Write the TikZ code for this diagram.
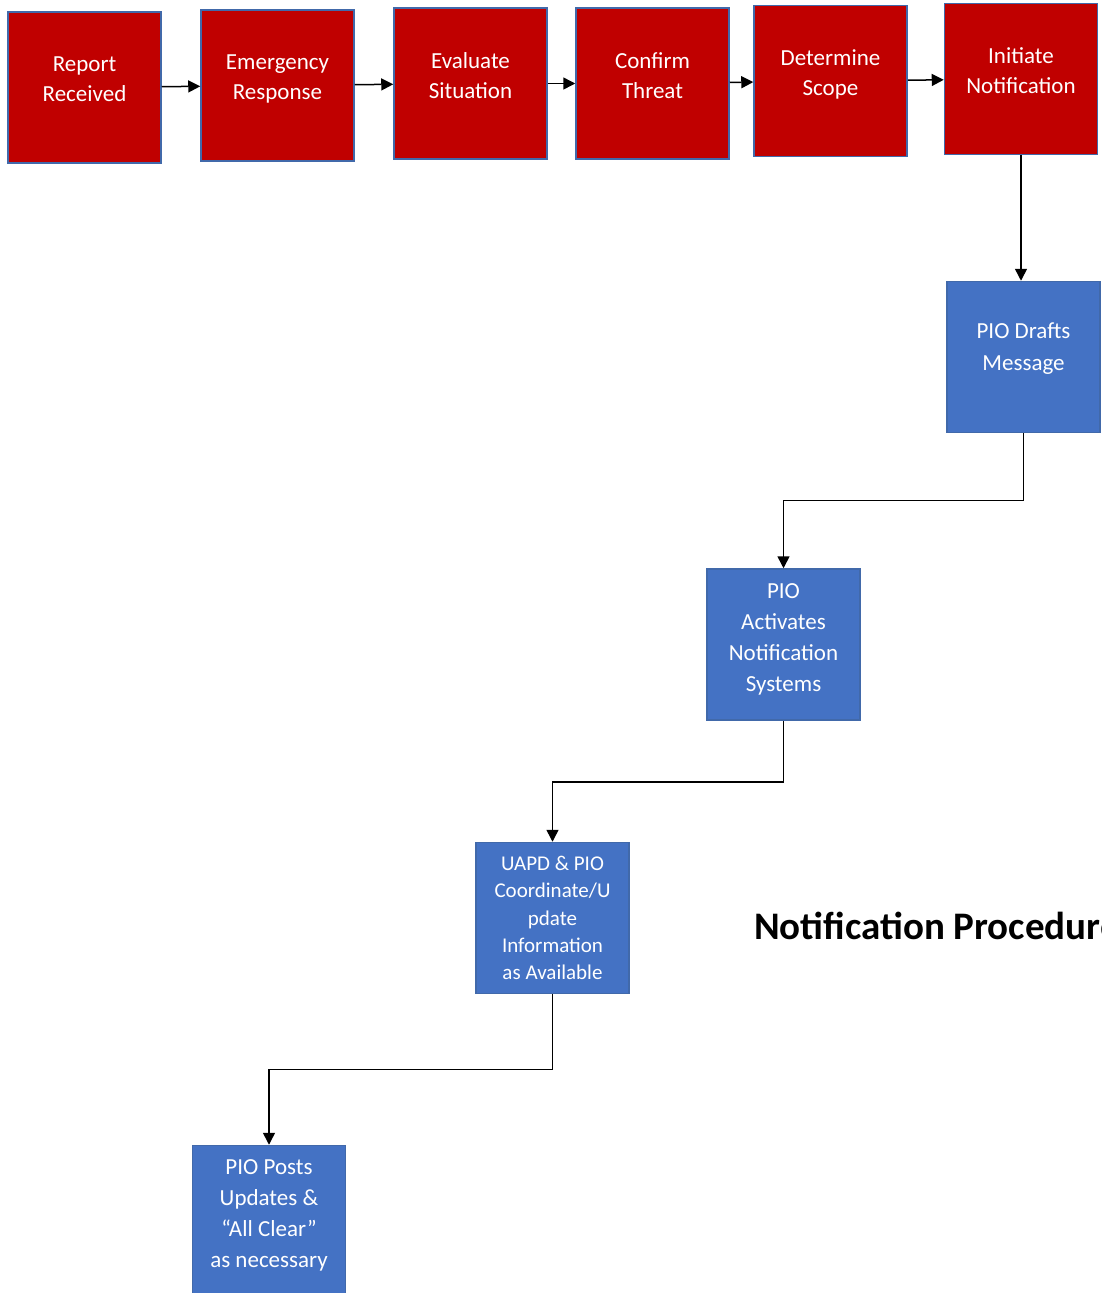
\documentclass[tikz,border=0pt]{standalone}
\usepackage{fontspec}
\setmainfont{Carlito}
\usetikzlibrary{arrows.meta}
\definecolor{redfill}{RGB}{192,0,0}
\definecolor{bluefill}{RGB}{68,114,196}
\definecolor{boxline}{RGB}{65,105,170}
\begin{document}
\begin{tikzpicture}[x=1pt,y=1pt,
    redbox/.style={draw=boxline, fill=redfill, line width=1.5pt, minimum width=153pt, minimum height=151pt, inner sep=2pt, text=white, align=center, font=\fontsize{23}{30}\selectfont, text depth=16pt},
    bluebox/.style={redbox, fill=bluefill, font=\fontsize{23}{31}\selectfont},
    flow/.style={draw=black, line width=1.5pt, -{Triangle[length=12pt,width=12pt]}},
    title/.style={font=\fontsize{39}{46}\selectfont\bfseries, inner sep=0pt}]
    \useasboundingbox (0,0) rectangle (1101,-1293);
    \clip (0,0) rectangle (1101,-1293);
    % top row
    \node[redbox] (report) at (84.5,-87.5) {Report\\Received};
    \node[redbox] (emerg) at (277.5,-85.5) {Emergency\\Response};
    \node[redbox] (eval) at (470.5,-83.5) {Evaluate\\Situation};
    \node[redbox] (confirm) at (652.5,-83.5) {Confirm\\Threat};
    \node[redbox] (scope) at (830.5,-81) {Determine\\Scope};
    \node[redbox] (initiate) at (1021,-79) {Initiate\\Notification};
    % steps going down
    \node[bluebox, text depth=21pt, font=\fontsize{23}{32}\selectfont] (drafts) at (1023.5,-357) {PIO Drafts\\Message};
    \node[bluebox, text depth=14pt] (activate) at (783.5,-644.5) {PIO\\Activates\\Notification\\Systems};
    \node[bluebox, text depth=-4pt, font=\fontsize{21}{27.3}\selectfont] (update) at (552.5,-918) {UAPD \& PIO\\Coordinate/U\\pdate\\Information\\as Available};
    \node[bluebox, text depth=14pt] (posts) at (269,-1221) {PIO Posts\\Updates \&\\“All Clear”\\as necessary};
    \node[title, anchor=base west] (heading) at (754,-939) {Notification Procedure};
    % connectors
    \draw[flow] (report) -- (emerg);
    \draw[flow] (emerg) -- (eval);
    \draw[flow] (eval) -- (confirm);
    \draw[flow] (confirm) -- (scope);
    \draw[flow] (scope) -- (initiate);
    \draw[flow] (initiate.south) -- (initiate.south |- drafts.north);
    \draw[flow] (drafts.south) -- ++(0,-67) -| (activate.north);
    \draw[flow] (activate.south) -- ++(0,-61) -| (update.north);
    \draw[flow] (update.south) -- ++(0,-75) -| (posts.north);
\end{tikzpicture}
\end{document}
